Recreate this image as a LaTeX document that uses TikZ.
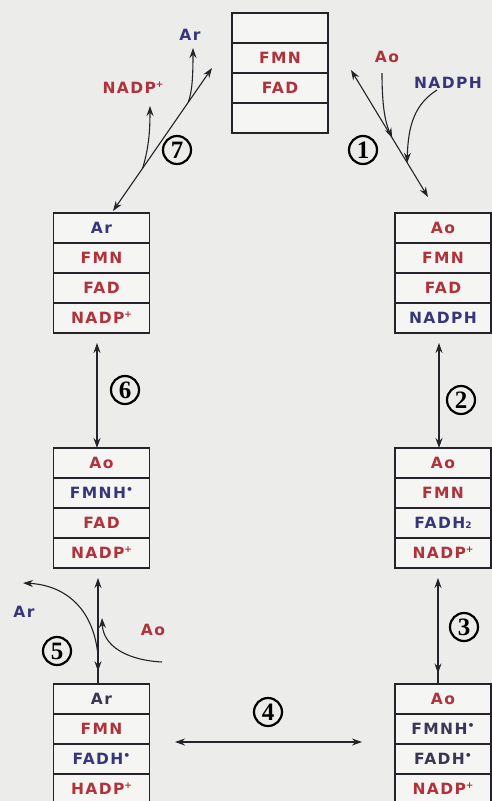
\documentclass[tikz,border=0pt]{standalone}
\usepackage{fontspec}
\usetikzlibrary{arrows.meta,decorations.markings,calc}
\newfontfamily\labfont{DejaVu Sans}[LetterSpace=9]
\newfontfamily\numfont{Liberation Serif}
\newcommand\supplus{\raisebox{6pt}{\fontsize{9}{9}\selectfont +}}
\newcommand\supdot{\raisebox{5pt}{\fontsize{11}{11}\selectfont •}}
\newcommand\subtwo{\raisebox{-0.5pt}{\fontsize{9}{9}\selectfont 2}}
\definecolor{bgpage}{HTML}{ECECEA}
\definecolor{cellbg}{HTML}{F5F5F3}
\definecolor{redlab}{HTML}{B0323A}
\definecolor{bluelab}{HTML}{38367A}
\definecolor{darklab}{HTML}{3A3654}
\definecolor{inkline}{HTML}{26222A}
\tikzset{
  cell/.style={fill=cellbg, minimum width=96pt, minimum height=30pt, inner sep=0pt, outer sep=0pt,
    font=\labfont\bfseries\fontsize{15.5}{15.5}\selectfont},
  lab/.style={inner sep=1pt, font=\labfont\bfseries\fontsize{15.5}{15.5}\selectfont},
  redtxt/.style={text=redlab},
  bluetxt/.style={text=bluelab},
  darktxt/.style={text=darklab},
  frame/.style={draw=inkline, line width=1.2pt},
  thinsep/.style={draw=inkline, line width=1.1pt},
  thicksep/.style={draw=inkline, line width=2pt},
  conn/.style={draw=inkline, line width=1.1pt},
  tipstyle/.tip={Stealth[length=10pt,width=7pt]},
  dbl/.style={conn, tipstyle-tipstyle},
  one/.style={conn, -tipstyle},
  midtip/.style={postaction={decorate}, decoration={markings, mark=at position #1 with {\arrow{tipstyle}}}},
  stepnum/.style={circle, draw=black, line width=2.2pt, minimum size=28pt, inner sep=0pt,
    font=\numfont\bfseries\fontsize{25}{25}\selectfont},
}
\begin{document}
\begin{tikzpicture}[x=1pt,y=-1pt]
\useasboundingbox (0,0) rectangle (492,801);
\clip (0,0) rectangle (492,801);
\fill[bgpage] (0,0) rectangle (492,801);

% enzyme states: four-slot stacks
% initial state (top)
\node[cell] (T1) at (280,28) {};
\node[cell, redtxt] (T2) at (280,58) {FMN};
\node[cell, redtxt] (T3) at (280,88) {FAD};
\node[cell] (T4) at (280,118) {};
% left column
\node[cell, bluetxt] (A1) at (101.5,228) {Ar};
\node[cell, redtxt] (A2) at (101.5,258) {FMN};
\node[cell, redtxt] (A3) at (101.5,288) {FAD};
\node[cell, redtxt] (A4) at (101.5,318) {NADP\supplus};
\node[cell, redtxt] (C1) at (101.5,463) {Ao};
\node[cell, bluetxt] (C2) at (101.5,493) {FMNH\supdot};
\node[cell, redtxt] (C3) at (101.5,523) {FAD};
\node[cell, redtxt] (C4) at (101.5,553) {NADP\supplus};
\node[cell, darktxt] (E1) at (101.5,699) {Ar};
\node[cell, redtxt] (E2) at (101.5,729) {FMN};
\node[cell, bluetxt] (E3) at (101.5,759) {FADH\supdot};
\node[cell, redtxt] (E4) at (101.5,789) {HADP\supplus};
% right column
\node[cell, redtxt] (B1) at (443,228) {Ao};
\node[cell, redtxt] (B2) at (443,258) {FMN};
\node[cell, redtxt] (B3) at (443,288) {FAD};
\node[cell, bluetxt] (B4) at (443,318) {NADPH};
\node[cell, redtxt] (D1) at (443,463) {Ao};
\node[cell, redtxt] (D2) at (443,493) {FMN};
\node[cell, bluetxt] (D3) at (443,523) {FADH\subtwo};
\node[cell, redtxt] (D4) at (443,553) {NADP\supplus};
\node[cell, redtxt] (F1) at (443,699) {Ao};
\node[cell, darktxt] (F2) at (443,729) {FMNH\supdot};
\node[cell, darktxt] (F3) at (443,759) {FADH\supdot};
\node[cell, redtxt] (F4) at (443,789) {NADP\supplus};

% stack outlines and slot separators
\draw[frame] (T1.north west) rectangle (T4.south east);
\draw[thinsep] (T1.south west) -- (T1.south east);
\draw[thinsep] (T2.south west) -- (T2.south east);
\draw[thicksep] (T3.south west) -- (T3.south east);
\foreach \s in {A,B}{
  \draw[frame] (\s1.north west) rectangle (\s4.south east);
  \draw[thicksep] (\s1.south west) -- (\s1.south east);
  \draw[thicksep] (\s2.south west) -- (\s2.south east);
  \draw[thinsep] (\s3.south west) -- (\s3.south east);
}
\foreach \s in {C,D,E,F}{
  \draw[frame] (\s1.north west) rectangle (\s4.south east);
  \foreach \r in {1,2,3}{
    \draw[thicksep] (\s\r.south west) -- (\s\r.south east);
  }
}

% free species
\node[lab, bluetxt] (ArT) at (190,35) {Ar};
\node[lab, redtxt] (NadpT) at (133,88) {NADP\supplus};
\node[lab, redtxt] (AoT) at (387,57) {Ao};
\node[lab, bluetxt] (NadphT) at (448,83) {NADPH};
\node[lab, bluetxt] (ArM) at (24,612) {Ar};
\node[lab, redtxt] (AoM) at (153,630) {Ao};

% step 1: binding of Ao and NADPH
\coordinate (p1) at (351,70);
\coordinate (e1) at ([xshift=-15pt,yshift=16pt]B1.north);
\draw[dbl] (p1) -- (e1);
\coordinate (k1a) at ($(p1)!0.535!(e1)$);
\coordinate (k1b) at ($(p1)!0.73!(e1)$);
\coordinate (o1a) at (382,73);
\coordinate (o1b) at (437,90);
\draw[one] (o1a) .. controls (382,105) and (385,122) .. (k1a);
\draw[one] (o1b) .. controls (415,104) and (408,125) .. (k1b);
\node[stepnum] (n1) at (363,150) {1};

% step 2
\draw[dbl] ([xshift=-4pt,yshift=-10pt]B4.south) -- ([xshift=-4pt]D1.north);
\node[stepnum] (n2) at (461,400) {2};

% step 3
\draw[conn, tipstyle-, midtip=0.9] ([xshift=-5pt,yshift=-10pt]D4.south) -- ([xshift=-5pt]F1.north);
\node[stepnum] (n3) at (464,627) {3};

% step 4
\coordinate (h4a) at (175,742);
\coordinate (h4b) at (362,742);
\draw[dbl] (h4a) -- (h4b);
\node[stepnum] (n4) at (268,712) {4};

% step 5: Ar released, Ao bound
\coordinate (s5) at ([xshift=-3.5pt,yshift=-10pt]C4.south);
\coordinate (e5) at ([xshift=-3.5pt]E1.north);
\draw[conn, tipstyle-, midtip=0.88] (s5) -- (e5);
\coordinate (k5) at ($(s5)!0.73!(e5)$);
\coordinate (t5a) at (23,583);
\coordinate (o5) at (162,662);
\coordinate (t5b) at (102,618);
\draw[one] (k5) .. controls (93,605) and (62,585) .. (t5a);
\draw[one] (o5) .. controls (125,660) and (103,645) .. (t5b);
\node[stepnum] (n5) at (57,651) {5};

% step 6
\draw[dbl] ([xshift=-4.5pt,yshift=-10pt]A4.south) -- ([xshift=-4.5pt]C1.north);
\node[stepnum] (n6) at (125,390) {6};

% step 7: Ar and NADP+ released
\coordinate (s7) at ([xshift=11.5pt,yshift=2pt]A1.north);
\coordinate (p7) at (212,68);
\draw[dbl] (s7) -- (p7);
\coordinate (k7a) at ($(s7)!0.3!(p7)$);
\coordinate (k7b) at ($(s7)!0.76!(p7)$);
\coordinate (t7a) at (150,106);
\coordinate (t7b) at (193,48);
\draw[one] (k7a) .. controls (148,150) and (150,135) .. (t7a);
\draw[one] (k7b) .. controls (192,92) and (193,78) .. (t7b);
\node[stepnum] (n7) at (177,150) {7};
\end{tikzpicture}
\end{document}
